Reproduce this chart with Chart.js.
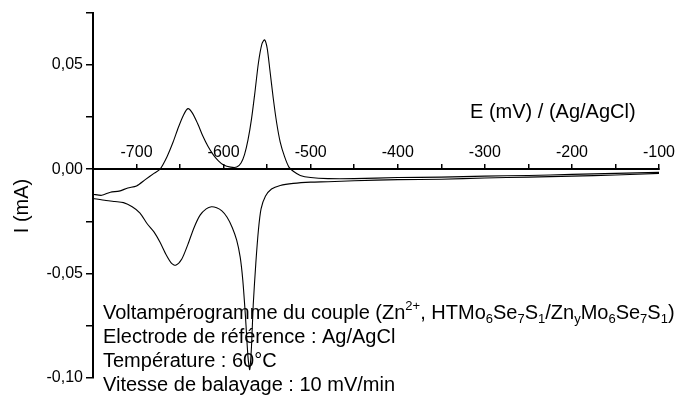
<!DOCTYPE html>
<html>
<head>
<meta charset="utf-8">
<script src="https://cdn.jsdelivr.net/npm/chart.js@4.4.0/dist/chart.umd.min.js"></script>
<style>
  body { margin: 0; background: #fff; }
  #wrap { width: 682px; height: 398px; }
</style>
</head>
<body>
<div id="wrap"><canvas id="cv"></canvas></div>
<script>
// forward scan (oxidation), E in mV vs Ag/AgCl, I in mA
const fwdE = [-750, -740, -730, -720, -710, -700, -690, -680, -673, -665, -658, -652, -646, -641, -636, -630, -624, -618, -612, -606, -600, -592, -585, -580, -576, -572, -568, -564, -560, -556, -553, -550, -547, -543, -539, -535, -530, -525, -520, -512, -500, -480, -450, -400, -350, -300, -250, -200, -150, -100];
const fwdI = [-0.012, -0.0125, -0.011, -0.0105, -0.009, -0.008, -0.005, -0.002, 0.000, 0.006, 0.013, 0.020, 0.026, 0.029, 0.027, 0.022, 0.016, 0.011, 0.007, 0.004, 0.002, 0.001, 0.001, 0.003, 0.007, 0.014, 0.024, 0.037, 0.051, 0.060, 0.062, 0.058, 0.048, 0.034, 0.022, 0.013, 0.006, 0.001, -0.001, -0.003, -0.004, -0.0045, -0.0045, -0.004, -0.0038, -0.0033, -0.003, -0.0025, -0.002, -0.0015];

// reverse scan (reduction)
const revE = [-100, -150, -200, -250, -300, -350, -400, -450, -480, -500, -520, -535, -545, -552, -557, -560, -563, -566, -568, -570, -572, -575, -578, -581, -585, -590, -596, -602, -608, -614, -620, -627, -634, -641, -648, -655, -660, -666, -673, -680, -688, -696, -705, -715, -725, -735, -750];
const revI = [-0.002, -0.0028, -0.0033, -0.0038, -0.0042, -0.0048, -0.005, -0.0055, -0.006, -0.0062, -0.0068, -0.0078, -0.0095, -0.013, -0.019, -0.029, -0.045, -0.065, -0.085, -0.096, -0.090, -0.070, -0.053, -0.042, -0.034, -0.028, -0.023, -0.020, -0.0185, -0.018, -0.019, -0.022, -0.028, -0.036, -0.043, -0.046, -0.045, -0.041, -0.035, -0.030, -0.026, -0.021, -0.018, -0.016, -0.0155, -0.015, -0.014];

const xLabels = [-700, -600, -500, -400, -300, -200, -100];
const yLabels = [0.05, 0, -0.05, -0.1];

const FONT = 'Arial, "Liberation Sans", sans-serif';

// note lines, each a list of [text, kind] pieces
const noteLines = [
  [["Voltampérogramme du couple (Zn", ""], ["2+", "sup"], [", HTMo", ""], ["6", "sub"], ["Se", ""], ["7", "sub"], ["S", ""], ["1", "sub"], ["/Zn", ""], ["y", "sub"], ["Mo", ""], ["6", "sub"], ["Se", ""], ["7", "sub"], ["S", ""], ["1", "sub"], [")", ""]],
  [["Electrode de référence : Ag/AgCl", ""]],
  [["Température : 60°C", ""]],
  [["Vitesse de balayage : 10 mV/min", ""]]
];

function toPts(xs, ys) {
  return xs.map((x, i) => ({x: x, y: ys[i]}));
}

function near(v, list) {
  return list.some(l => Math.abs(l - v) < 1e-6);
}

function fmtY(v) {
  if (Math.abs(v) < 1e-9) return '0,00';
  return v.toFixed(2).replace('.', ',');
}

// texts: axis titles and the note
const textPlugin = {
  id: 'texts',
  afterDraw(chart) {
    const ctx = chart.ctx;
    ctx.save();
    ctx.fillStyle = '#000';
    ctx.textBaseline = 'middle';

    // x title
    ctx.font = '20px ' + FONT;
    ctx.textAlign = 'left';
    ctx.fillText('E (mV) / (Ag/AgCl)', 470, 112);

    // y title
    ctx.save();
    ctx.translate(22, 206);
    ctx.rotate(-Math.PI / 2);
    ctx.textAlign = 'center';
    ctx.fillText('I (mA)', 0, 0);
    ctx.restore();

    // note
    ctx.textAlign = 'left';
    let y = 313;
    noteLines.forEach(line => {
      let x = 103;
      line.forEach(([t, kind]) => {
        let dy = 0;
        if (kind === 'sub') { ctx.font = '13px ' + FONT; dy = 6; }
        else if (kind === 'sup') { ctx.font = '13px ' + FONT; dy = -7; }
        else ctx.font = '20px ' + FONT;
        ctx.fillText(t, x, y + dy);
        x += ctx.measureText(t).width;
      });
      y += 24;
    });
    ctx.restore();
  }
};

new Chart(document.getElementById('cv'), {
  type: 'scatter',
  data: {
    datasets: [
      {data: toPts(fwdE, fwdI), showLine: true, borderColor: '#000', borderWidth: 1.1, pointRadius: 0, tension: 0.25, fill: false},
      {data: toPts(revE, revI), showLine: true, borderColor: '#000', borderWidth: 1.1, pointRadius: 0, tension: 0.25, fill: false}
    ]
  },
  options: {
    responsive: true,
    maintainAspectRatio: false,
    animation: false,
    layout: {padding: {left: 0, right: 23, top: 10, bottom: 20}},
    plugins: {legend: {display: false}, tooltip: {enabled: false}},
    scales: {
      x: {
        type: 'linear',
        position: {y: 0},
        min: -750,
        max: -100,
        border: {display: true, color: '#000', width: 2},
        grid: {drawOnChartArea: false, drawTicks: true, tickLength: -6, color: '#000', lineWidth: 1.5},
        ticks: {
          stepSize: 50,
          padding: -20,
          maxRotation: 0,
          autoSkip: false,
          color: '#000',
          font: {family: FONT, size: 16},
          callback: v => near(v, xLabels) ? String(v) : ''
        }
      },
      y: {
        type: 'linear',
        min: -0.1,
        max: 0.075,
        afterFit: s => { s.width = 93; },
        border: {display: true, color: '#000', width: 2},
        grid: {drawOnChartArea: false, drawTicks: true, tickLength: 7, color: '#000', lineWidth: 1.5},
        ticks: {
          stepSize: 0.025,
          padding: 3,
          autoSkip: false,
          color: '#000',
          font: {family: FONT, size: 16},
          callback: v => near(v, yLabels) ? fmtY(v) : ''
        }
      }
    }
  },
  plugins: [textPlugin]
});
</script>
</body>
</html>
